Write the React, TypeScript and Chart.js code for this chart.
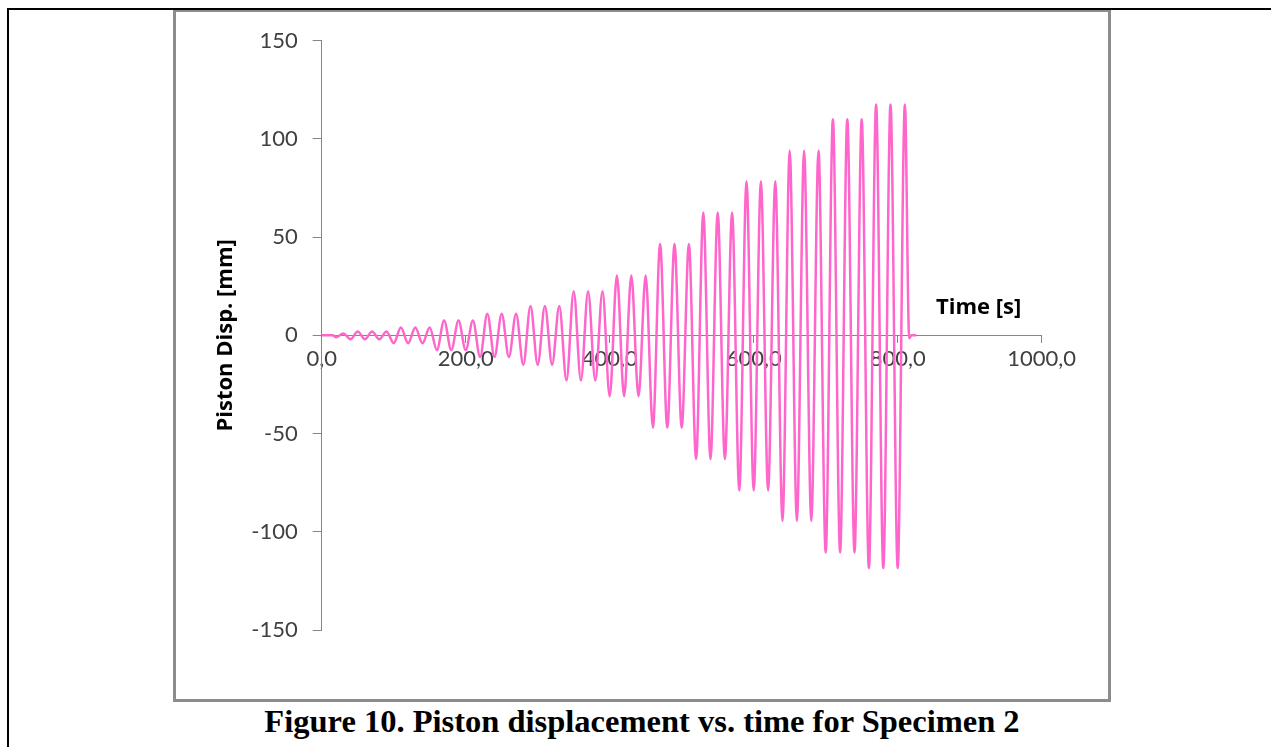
import React, { useEffect, useRef } from "react";
import { Chart, registerables } from "chart.js";

Chart.register(...registerables);

// Time of each extremum of the piston stroke (s)
const timeS = [
  0, 15,
  20, 30,
  40, 50, 60, 70, 80, 90,
  100, 110, 120, 130, 140, 150,
  160, 170, 180, 190, 200, 210,
  220, 230, 240, 250, 260, 270,
  280, 290, 300, 310, 320, 330,
  340, 350, 360, 370, 380, 390,
  400, 410, 420, 430, 440, 450,
  460, 470, 480, 490, 500, 510,
  520, 530, 540, 550, 560, 570,
  580, 590, 600, 610, 620, 630,
  640, 650, 660, 670, 680, 690,
  700, 710, 720, 730, 740, 750,
  760, 770, 780, 790, 800, 810,
  816, 819, 826,
];

// Piston displacement at each of those instants (mm)
const dispMm = [
  0, 0,
  -1, 1,
  -2, 2, -2, 2, -2, 2,
  -4, 4, -4, 4, -4, 4,
  -7.5, 7.5, -7.5, 7.5, -7.5, 7.5,
  -11, 11, -11, 11, -11, 11,
  -15, 15, -15, 15, -15, 15,
  -23, 22.5, -23, 22.5, -23, 22.5,
  -31, 30.5, -31, 30.5, -31, 30.5,
  -47, 46.5, -47, 46.5, -47, 46.5,
  -63, 62.5, -63, 62.5, -63, 62.5,
  -79, 78.5, -79, 78.5, -79, 78.5,
  -94.5, 94, -94.5, 94, -94.5, 94,
  -110.5, 110, -110.5, 110, -110.5, 110,
  -118.5, 117.5, -118.5, 117.5, -118.5, 117.5,
  -1.5, 0, 0,
];

const xTicks = [0, 200, 400, 600, 800, 1000];
const yTicks = [-150, -100, -50, 0, 50, 100, 150];

const X_TITLE = "Time [s]";
const Y_TITLE = "Piston Disp. [mm]";
const CAPTION = "Figure 10. Piston displacement vs. time for Specimen 2";

const TICK_FONT = { family: "Lato", size: 22 };
const AXIS_GREY = "#868686";

const axisTitlePlugin = {
  id: "axisTitles",
  afterDraw(chart: any) {
    const { ctx, chartArea, scales } = chart;
    ctx.save();
    ctx.fillStyle = "#000000";
    ctx.font = 'bold 22px "Open Sans"';
    ctx.textAlign = "center";
    ctx.textBaseline = "middle";
    const y0 = scales.y.getPixelForValue(0);
    ctx.fillText(X_TITLE, chartArea.right - 63, y0 - 28);
    ctx.translate(chartArea.left - 96, (chartArea.top + chartArea.bottom) / 2);
    ctx.rotate(-Math.PI / 2);
    ctx.fillText(Y_TITLE, 0, 0);
    ctx.restore();
  },
};

function ChartCanvas() {
  const ref = useRef<HTMLCanvasElement | null>(null);
  useEffect(() => {
    if (!ref.current) return;
    const points = timeS.map((t, i) => ({ x: t, y: dispMm[i] }));
    const chart = new Chart(ref.current, {
      type: "line",
      data: {
        datasets: [
          {
            data: points,
            borderColor: "#ff66cc",
            borderWidth: 2.5,
            pointRadius: 0,
            fill: false,
            cubicInterpolationMode: "monotone",
          },
        ],
      },
      options: {
        responsive: false,
        animation: false,
        events: [],
        layout: { padding: { left: 0, top: 28.7, right: 66.3, bottom: 69 } },
        plugins: {
          legend: { display: false },
          tooltip: { enabled: false },
          title: { display: false },
        },
        scales: {
          x: {
            type: "linear",
            min: 0,
            max: 1000,
            position: { y: 0 },
            afterBuildTicks: (s: any) => {
              s.ticks = xTicks.map((v) => ({ value: v }));
            },
            ticks: {
              callback: (v: any) => Number(v).toFixed(1).replace(".", ","),
              font: TICK_FONT,
              color: "#404040",
              padding: 3,
              maxRotation: 0,
              autoSkip: false,
            },
            grid: {
              drawOnChartArea: false,
              drawTicks: true,
              tickLength: 7,
              color: AXIS_GREY,
            },
            border: { display: true, color: AXIS_GREY, width: 1 },
          },
          y: {
            type: "linear",
            position: "left",
            min: -150,
            max: 150,
            afterBuildTicks: (s: any) => {
              s.ticks = yTicks.map((v) => ({ value: v }));
            },
            afterFit: (s: any) => {
              s.width = 145.7;
            },
            ticks: {
              font: TICK_FONT,
              color: "#404040",
              padding: 15,
              autoSkip: false,
            },
            grid: {
              drawOnChartArea: false,
              drawTicks: true,
              tickLength: 9,
              color: AXIS_GREY,
            },
            border: { display: true, color: AXIS_GREY, width: 1 },
          },
        },
      },
      plugins: [axisTitlePlugin],
    } as any);
    return () => chart.destroy();
  }, []);
  return (
    <canvas
      ref={ref}
      width={932}
      height={687}
      style={{ position: "absolute", left: 176, top: 12, width: 932, height: 687 }}
    />
  );
}

export default function App() {
  return (
    <div
      style={{
        position: "absolute",
        left: 0,
        top: 0,
        width: 1271,
        height: 747,
        overflow: "hidden",
        background: "#ffffff",
      }}
    >
      <div
        style={{
          position: "absolute",
          left: 7,
          top: 8,
          width: 1400,
          height: 900,
          border: "2px solid #000000",
          boxSizing: "border-box",
        }}
      />
      <div
        style={{
          position: "absolute",
          left: 173,
          top: 10,
          width: 938,
          height: 692,
          borderStyle: "solid",
          borderColor: "#8c8c8c",
          borderWidth: "2px 3px 3px 3px",
          boxSizing: "border-box",
          background: "#ffffff",
        }}
      />
      <ChartCanvas />
      <div
        style={{
          position: "absolute",
          left: 0,
          top: 705,
          width: 1284,
          textAlign: "center",
          fontFamily: '"Liberation Serif", "Times New Roman", serif',
          fontWeight: "bold",
          fontSize: 32.5,
          lineHeight: "32px",
          color: "#000000",
          whiteSpace: "nowrap",
        }}
      >
        {CAPTION}
      </div>
    </div>
  );
}
